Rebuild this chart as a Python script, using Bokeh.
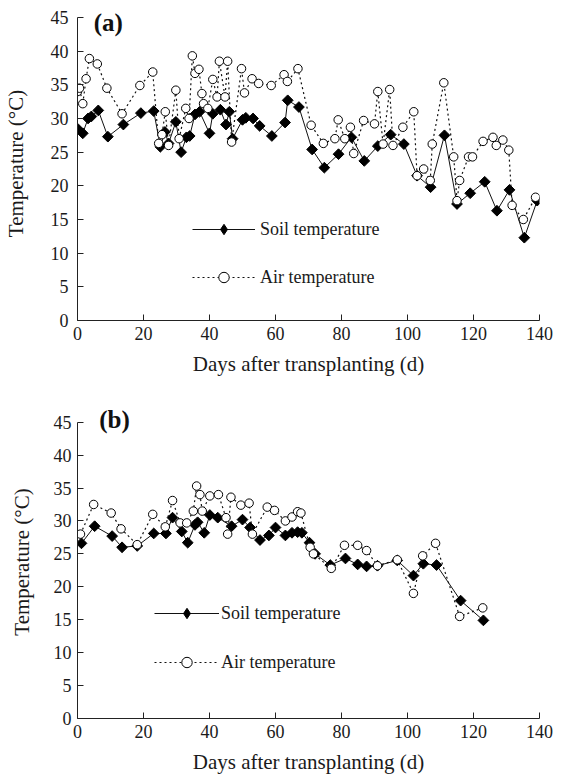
from bokeh.plotting import figure
from bokeh.models import Range1d, FixedTicker, Legend, LegendItem, Label
from bokeh.layouts import column
from bokeh.embed import file_html
from bokeh.resources import INLINE
import numpy as np

FONT = "Liberation Serif"

x_ticks = [0, 20, 40, 60, 80, 100, 120, 140]
y_ticks = [0, 5, 10, 15, 20, 25, 30, 35, 40, 45]

# ---- Panel (a) ----
a_soil_day = [0, 1.6, 3.2, 4.2, 6.3, 9.2, 13.9, 19.2, 23.1, 25.1, 26.5, 27.6, 29.8, 31.4, 33.0,
              34.0, 35.6, 37.0, 40.0, 41.0, 43.3, 45.0, 46.0, 47.0, 50.0, 51.0, 53.2, 55.2, 58.9, 62.9,
              63.7, 67.1, 71.1, 74.8, 79.1, 83.0, 86.9, 91.0, 94.9, 98.9, 102.9, 107.0, 111.2, 115.0, 119.0,
              123.4, 127.1, 130.9, 135.4, 139.3]
a_soil_temp = [28.5, 27.8, 30.0, 30.3, 31.2, 27.3, 29.1, 30.8, 31.1, 25.8, 28.0, 26.3, 29.5, 25.0, 27.2,
               27.4, 30.6, 31.0, 27.8, 30.7, 31.3, 29.1, 31.0, 27.0, 29.8, 30.1, 30.0, 28.9, 27.4, 29.4,
               32.7, 31.7, 25.4, 22.7, 24.7, 27.2, 23.7, 25.9, 27.6, 26.2, 21.5, 19.8, 27.5, 17.3, 18.9,
               20.6, 16.3, 19.4, 12.3, 17.8]
a_air_day = [0, 0.6, 1.6, 2.6, 3.6, 6.0, 8.9, 13.5, 18.9, 22.8, 24.6, 25.6, 26.6, 27.6, 29.8,
             30.8, 32.8, 33.8, 34.8, 35.6, 36.8, 37.7, 38.2, 39.5, 41.0, 42.3, 43.0, 44.7, 45.5, 46.7,
             49.7, 50.6, 52.9, 54.9, 58.7, 62.6, 63.6, 66.8, 70.8, 74.5, 78.0, 79.0, 81.0, 82.7, 83.7,
             86.7, 90.0, 91.0, 92.6, 94.6, 95.6, 98.6, 101.9, 102.9, 104.9, 106.9, 107.5, 111.0, 114.0, 115.0,
             115.8, 118.5, 119.7, 122.9, 125.9, 126.9, 128.9, 130.7, 131.7, 135.1, 138.8]
a_air_temp = [34.0, 34.5, 32.2, 35.9, 38.9, 38.1, 34.5, 30.7, 34.9, 36.9, 26.3, 27.6, 31.0, 26.0, 34.2,
              27.0, 31.5, 30.0, 39.3, 36.7, 37.3, 33.7, 32.2, 31.5, 35.8, 33.2, 38.5, 33.2, 38.5, 26.5,
              37.4, 33.8, 35.9, 35.2, 34.9, 36.5, 35.5, 37.4, 29.0, 26.3, 27.0, 29.8, 27.0, 28.7, 24.8,
              29.7, 29.2, 34.0, 26.2, 34.3, 26.0, 28.7, 31.0, 21.5, 22.5, 20.8, 26.2, 35.3, 24.3, 17.8,
              20.8, 24.3, 24.3, 26.6, 27.2, 26.0, 26.8, 25.3, 17.1, 15.0, 18.3]

# ---- Panel (b) ----
b_soil_day = [1.2, 5.2, 10.5, 13.5, 18.1, 23.1, 26.8, 28.8, 31.6, 33.4, 35.6, 36.4, 38.4, 40.1, 42.5,
              46.7, 50.0, 52.3, 55.3, 58.0, 60.0, 63.0, 65.0, 66.7, 68.0, 70.3, 72.0, 76.6, 81.2, 84.9,
              87.6, 90.9, 96.9, 101.8, 104.8, 108.8, 116.1, 123.0]
b_soil_temp = [26.6, 29.2, 27.7, 26.0, 26.2, 28.1, 28.1, 30.5, 28.4, 26.7, 29.4, 29.8, 28.2, 30.9, 30.5,
               29.2, 30.2, 29.0, 27.1, 27.8, 29.0, 27.8, 28.2, 28.3, 28.2, 26.7, 25.0, 23.3, 24.3, 23.4,
               23.1, 23.2, 24.0, 21.7, 23.5, 23.3, 17.9, 14.9]
b_air_day = [0.9, 4.9, 10.2, 13.2, 18.1, 22.8, 26.6, 28.8, 31.1, 33.1, 35.1, 36.1, 37.1, 37.8, 40.1,
             42.7, 45.0, 45.5, 46.5, 49.5, 52.0, 53.0, 57.5, 59.7, 63.0, 65.0, 66.7, 67.7, 70.5, 71.5,
             76.9, 80.9, 84.9, 87.6, 90.9, 96.9, 101.8, 104.6, 108.5, 115.8, 122.8]
b_air_temp = [28.0, 32.5, 31.2, 28.8, 26.4, 31.0, 29.1, 33.1, 29.7, 29.7, 31.5, 35.3, 34.0, 31.5, 33.8,
              34.0, 30.5, 28.0, 33.6, 32.4, 32.7, 28.0, 32.1, 31.6, 30.0, 30.6, 31.4, 31.2, 26.0, 25.0,
              22.8, 26.3, 26.3, 25.5, 23.2, 24.1, 19.0, 24.7, 26.6, 15.5, 16.8]

panel_labels = ["(a)", "(b)"]
series_names = ["Soil temperature", "Air temperature"]
x_title = "Days after transplanting (d)"
y_title = "Temperature (\u00b0C)"
y_max = 45


def make_panel(soil_d, soil_t, air_d, air_t, tag, tag_pos, height, y_top, borders,
               ylab_standoffs, leg_loc, leg_glyph_w, leg_spacing, leg_standoff):
    bl, br, bt, bb = borders
    p = figure(width=561, height=height, output_backend="svg", toolbar_location=None,
               x_range=Range1d(0, 140), y_range=Range1d(0, y_top),
               min_border_left=bl, min_border_right=br, min_border_top=bt, min_border_bottom=bb)
    p.outline_line_color = None
    p.xgrid.visible = False
    p.ygrid.visible = False
    p.background_fill_color = "white"
    p.border_fill_color = "white"

    for ax, ticks in ((p.xaxis[0], x_ticks), (p.yaxis[0], y_ticks)):
        ax.ticker = FixedTicker(ticks=ticks)
        ax.major_tick_in = 6
        ax.major_tick_out = 0
        ax.minor_tick_line_color = None
        ax.axis_line_color = "#222222"
        ax.major_tick_line_color = "#222222"
        ax.major_label_text_font = FONT
        ax.major_label_text_font_size = "18px"
        ax.major_label_text_color = "#1a1a1a"
        ax.axis_label_text_font = FONT
        ax.axis_label_text_font_size = "21px"
        ax.axis_label_text_font_style = "normal"
        ax.axis_label_text_color = "#1a1a1a"
    p.yaxis.bounds = (0, y_max)
    p.xaxis.axis_label = x_title
    p.yaxis.axis_label = y_title
    p.xaxis.major_label_standoff = 6
    p.xaxis.axis_label_standoff = 9
    p.yaxis.major_label_standoff = ylab_standoffs[0]
    p.yaxis.axis_label_standoff = ylab_standoffs[1]

    soil_line = p.line(soil_d, soil_t, line_color="#111111", line_width=1)
    p.scatter(soil_d, soil_t, marker="square", size=7.6, angle=np.pi / 4,
              fill_color="black", line_color="black", line_width=1)
    # legend key only (a diamond marker; not drawn in the plot area)
    soil_key = p.scatter([np.nan], [np.nan], marker="diamond", fill_color="black",
                         line_color="black", line_width=1)
    air_line = p.line(air_d, air_t, line_color="#111111", line_width=1.2, line_dash="2 3")
    air_pts = p.scatter(air_d, air_t, marker="circle", size=8.5, fill_color="white",
                        line_color="black", line_width=1)

    legend = Legend(items=[LegendItem(label=series_names[0], renderers=[soil_line, soil_key]),
                           LegendItem(label=series_names[1], renderers=[air_line, air_pts])],
                    location=leg_loc, orientation="vertical",
                    glyph_width=leg_glyph_w, glyph_height=26, label_height=26,
                    spacing=leg_spacing, padding=0, margin=0, label_standoff=leg_standoff,
                    border_line_color=None, background_fill_alpha=0,
                    label_text_font=FONT, label_text_font_size="18px", label_text_color="#1a1a1a")
    p.add_layout(legend, "center")

    p.add_layout(Label(x=tag_pos[0], y=tag_pos[1], text=tag, text_font=FONT, text_font_size="25px",
                       text_font_style="bold", text_baseline="middle", text_align="left",
                       text_color="#111111"))
    return p


pa = make_panel(a_soil_day, a_soil_temp, a_air_day, a_air_temp, panel_labels[0], (4.9, 44.2),
                396, 46.63, (77, 14, 6, 76), (9, 20), (115, 30), 63, 22, 5)
pb = make_panel(b_soil_day, b_soil_temp, b_air_day, b_air_temp, panel_labels[1], (6.6, 45.4),
                380, 47.53, (71, 22, 9, 57), (6, 17), (77, 43), 65, 23, 2)

layout = column(pa, pb, spacing=0)
open("out.html", "w").write(file_html(layout, INLINE))
